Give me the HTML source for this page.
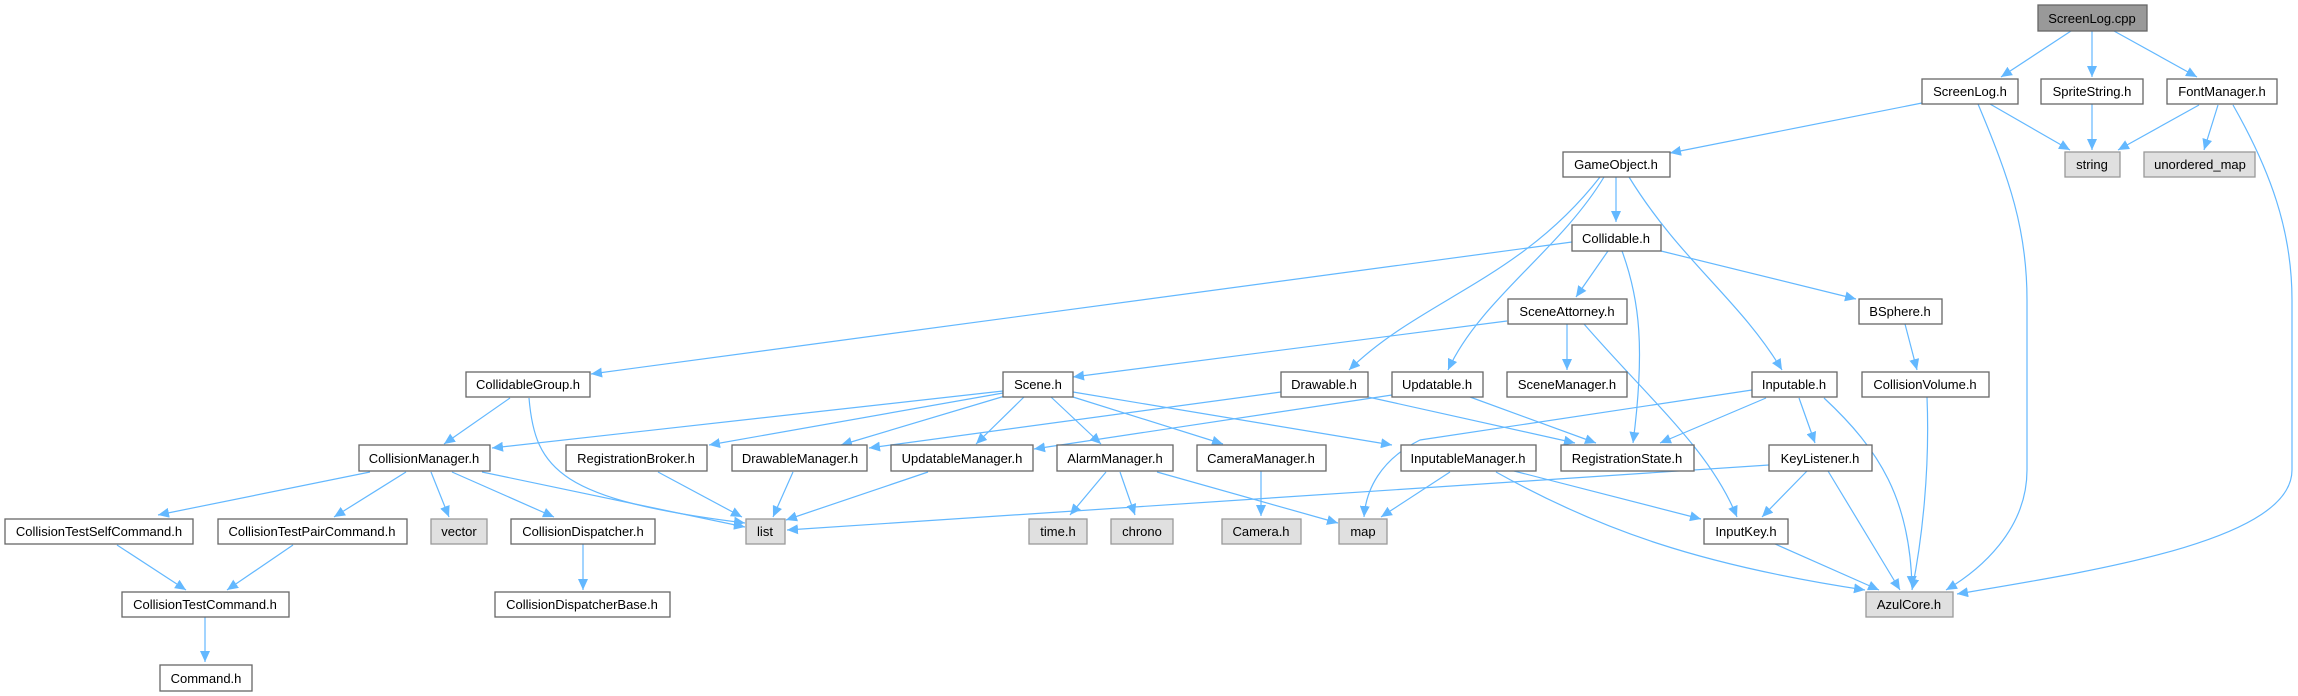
<!DOCTYPE html>
<html><head><meta charset="utf-8"><style>
html,body{margin:0;padding:0;background:#fff;}
svg{display:block;}
text{font-family:"Liberation Sans",Arial,sans-serif;font-size:13px;fill:#000;text-anchor:middle;}
.n{fill:#fff;stroke:#666;stroke-width:1.3;}
.g{fill:#e0e0e0;stroke:#999;stroke-width:1.3;}
.r{fill:#999;stroke:#666;stroke-width:1.3;}
.e{fill:none;stroke:#63b8ff;stroke-width:1.2;marker-end:url(#a);}
</style></head><body>
<svg width="2298" height="696" viewBox="0 0 2298 696" xmlns="http://www.w3.org/2000/svg">
<defs><marker id="a" markerUnits="userSpaceOnUse" markerWidth="12" markerHeight="10" refX="11" refY="5" orient="auto"><path d="M0,0 L11,5 L0,10 Z" fill="#63b8ff"/></marker></defs>
<g>
<path class="e" d="M2071,31 L2001,77"/>
<path class="e" d="M2092,31 L2092,77"/>
<path class="e" d="M2114,31 L2197,77"/>
<path class="e" d="M1922,103 L1670,153"/>
<path class="e" d="M1990,104 L2070,150"/>
<path class="e" d="M1978,104 C2010,180 2027,230 2027,300 L2027,470 C2027,530 1980,570 1946,590"/>
<path class="e" d="M2092,104 L2092,150"/>
<path class="e" d="M2199,105 L2118,150"/>
<path class="e" d="M2218,105 L2204,150"/>
<path class="e" d="M2233,105 C2270,170 2292,230 2292,300 L2292,470 C2292,540 2100,570 1957,594"/>
<path class="e" d="M1616,177 L1616,222"/>
<path class="e" d="M1629,177 C1680,260 1740,300 1782,370"/>
<path class="e" d="M1600,177 C1520,280 1420,300 1349,370"/>
<path class="e" d="M1604,177 C1560,250 1480,300 1448,370"/>
<path class="e" d="M1572,242 L591,374"/>
<path class="e" d="M1608,251 L1576,297"/>
<path class="e" d="M1661,251 L1856,299"/>
<path class="e" d="M1622,251 C1640,300 1645,350 1633,443"/>
<path class="e" d="M1507,321 L1073,377"/>
<path class="e" d="M1567,324 L1567,370"/>
<path class="e" d="M1584,324 C1650,400 1710,450 1737,517"/>
<path class="e" d="M1905,324 L1917,370"/>
<path class="e" d="M1927,397 C1930,470 1922,540 1912,590"/>
<path class="e" d="M510,398 L444,444"/>
<path class="e" d="M529,398 C535,470 560,500 745,523"/>
<path class="e" d="M1003,391 L492,448"/>
<path class="e" d="M1003,393 L709,445"/>
<path class="e" d="M1005,396 L841,445"/>
<path class="e" d="M1024,397 L976,444"/>
<path class="e" d="M1051,397 L1101,444"/>
<path class="e" d="M1073,397 L1223,444"/>
<path class="e" d="M1073,392 L1392,445"/>
<path class="e" d="M1281,392 L869,448"/>
<path class="e" d="M1368,397 L1575,443"/>
<path class="e" d="M1392,395 L1034,449"/>
<path class="e" d="M1470,397 L1596,443"/>
<path class="e" d="M1752,390 L1420,440 C1380,460 1366,490 1364,517"/>
<path class="e" d="M1766,398 L1660,443"/>
<path class="e" d="M1799,398 L1815,443"/>
<path class="e" d="M1824,398 C1880,450 1910,500 1912,587"/>
<path class="e" d="M370,472 L158,515"/>
<path class="e" d="M406,472 L334,517"/>
<path class="e" d="M431,472 L449,517"/>
<path class="e" d="M452,472 L554,517"/>
<path class="e" d="M482,472 L745,527"/>
<path class="e" d="M658,472 L742,517"/>
<path class="e" d="M793,472 L773,517"/>
<path class="e" d="M928,472 L786,520"/>
<path class="e" d="M1769,465 L787,530"/>
<path class="e" d="M1106,472 L1070,515"/>
<path class="e" d="M1120,472 L1135,515"/>
<path class="e" d="M1157,472 L1338,523"/>
<path class="e" d="M1261,471 L1261,516"/>
<path class="e" d="M1450,472 L1381,517"/>
<path class="e" d="M1514,471 L1701,519"/>
<path class="e" d="M1496,472 C1600,530 1700,565 1865,590"/>
<path class="e" d="M1807,471 L1762,517"/>
<path class="e" d="M1828,471 L1900,590"/>
<path class="e" d="M1775,544 L1879,590"/>
<path class="e" d="M117,545 L186,590"/>
<path class="e" d="M293,545 L227,590"/>
<path class="e" d="M205,617 L205,662"/>
<path class="e" d="M583,544 L583,590"/>
</g>
<g>
<rect class="r" x="2038" y="5" width="109" height="26"/><text x="2092" y="23">ScreenLog.cpp</text>
<rect class="n" x="1922" y="79" width="96" height="25"/><text x="1970" y="96">ScreenLog.h</text>
<rect class="n" x="2041" y="79" width="102" height="25"/><text x="2092" y="96">SpriteString.h</text>
<rect class="n" x="2167" y="79" width="110" height="25"/><text x="2222" y="96">FontManager.h</text>
<rect class="n" x="1563" y="152" width="107" height="25"/><text x="1616" y="169">GameObject.h</text>
<rect class="g" x="2065" y="152" width="55" height="25"/><text x="2092" y="169">string</text>
<rect class="g" x="2144" y="152" width="111" height="25"/><text x="2200" y="169">unordered_map</text>
<rect class="n" x="1572" y="225" width="89" height="26"/><text x="1616" y="243">Collidable.h</text>
<rect class="n" x="1508" y="299" width="119" height="25"/><text x="1567" y="316">SceneAttorney.h</text>
<rect class="n" x="1859" y="299" width="83" height="25"/><text x="1900" y="316">BSphere.h</text>
<rect class="n" x="466" y="372" width="124" height="25"/><text x="528" y="389">CollidableGroup.h</text>
<rect class="n" x="1003" y="372" width="70" height="25"/><text x="1038" y="389">Scene.h</text>
<rect class="n" x="1281" y="372" width="87" height="25"/><text x="1324" y="389">Drawable.h</text>
<rect class="n" x="1392" y="372" width="91" height="25"/><text x="1437" y="389">Updatable.h</text>
<rect class="n" x="1507" y="372" width="120" height="25"/><text x="1567" y="389">SceneManager.h</text>
<rect class="n" x="1752" y="372" width="85" height="25"/><text x="1794" y="389">Inputable.h</text>
<rect class="n" x="1862" y="372" width="127" height="25"/><text x="1925" y="389">CollisionVolume.h</text>
<rect class="n" x="359" y="445" width="131" height="26"/><text x="424" y="463">CollisionManager.h</text>
<rect class="n" x="566" y="445" width="141" height="26"/><text x="636" y="463">RegistrationBroker.h</text>
<rect class="n" x="732" y="445" width="135" height="26"/><text x="800" y="463">DrawableManager.h</text>
<rect class="n" x="891" y="445" width="142" height="26"/><text x="962" y="463">UpdatableManager.h</text>
<rect class="n" x="1057" y="445" width="116" height="26"/><text x="1115" y="463">AlarmManager.h</text>
<rect class="n" x="1197" y="445" width="129" height="26"/><text x="1261" y="463">CameraManager.h</text>
<rect class="n" x="1401" y="445" width="135" height="26"/><text x="1468" y="463">InputableManager.h</text>
<rect class="n" x="1561" y="445" width="133" height="26"/><text x="1627" y="463">RegistrationState.h</text>
<rect class="n" x="1769" y="445" width="103" height="26"/><text x="1820" y="463">KeyListener.h</text>
<rect class="n" x="5" y="519" width="188" height="25"/><text x="99" y="536">CollisionTestSelfCommand.h</text>
<rect class="n" x="218" y="519" width="189" height="25"/><text x="312" y="536">CollisionTestPairCommand.h</text>
<rect class="g" x="431" y="519" width="56" height="25"/><text x="459" y="536">vector</text>
<rect class="n" x="511" y="519" width="144" height="25"/><text x="583" y="536">CollisionDispatcher.h</text>
<rect class="g" x="746" y="519" width="39" height="25"/><text x="765" y="536">list</text>
<rect class="g" x="1029" y="519" width="58" height="25"/><text x="1058" y="536">time.h</text>
<rect class="g" x="1111" y="519" width="62" height="25"/><text x="1142" y="536">chrono</text>
<rect class="g" x="1222" y="519" width="79" height="25"/><text x="1261" y="536">Camera.h</text>
<rect class="g" x="1339" y="519" width="48" height="25"/><text x="1363" y="536">map</text>
<rect class="n" x="1704" y="519" width="84" height="25"/><text x="1746" y="536">InputKey.h</text>
<rect class="n" x="122" y="592" width="167" height="25"/><text x="205" y="609">CollisionTestCommand.h</text>
<rect class="n" x="495" y="592" width="175" height="25"/><text x="582" y="609">CollisionDispatcherBase.h</text>
<rect class="g" x="1866" y="592" width="87" height="25"/><text x="1909" y="609">AzulCore.h</text>
<rect class="n" x="160" y="665" width="92" height="26"/><text x="206" y="683">Command.h</text>
</g>
</svg>
</body></html>
